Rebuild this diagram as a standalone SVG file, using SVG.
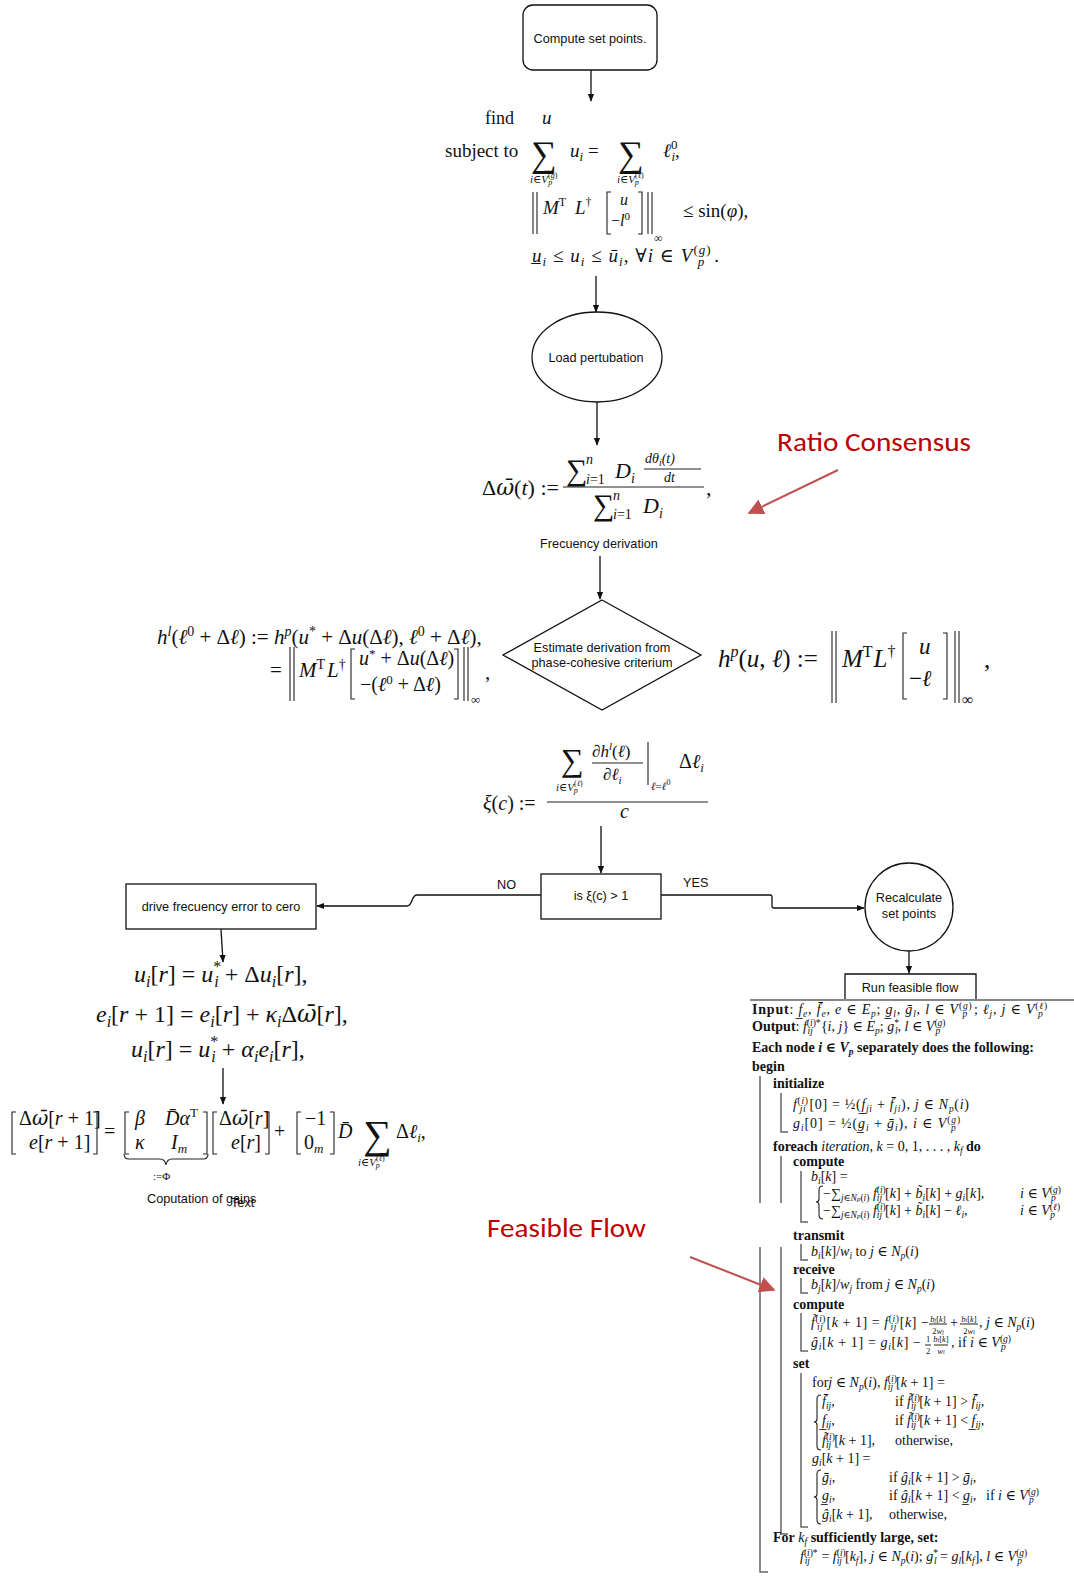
<svg xmlns="http://www.w3.org/2000/svg" width="1074" height="1576" viewBox="0 0 1074 1576">
<style>
.t{font-family:"Liberation Serif","Times New Roman","DejaVu Serif",serif;fill:#111}
.i{font-style:italic}
.b{font-weight:bold}
.w{font-family:"DejaVu Serif",serif}
.f{font-family:"Liberation Sans",Arial,sans-serif;font-size:12.7px;fill:#111}
.nd{fill:#fff;stroke:#111;stroke-width:1.3}
.ln{fill:none;stroke:#111;stroke-width:1.3}
.br{fill:none;stroke:#222;stroke-width:1.1}
.al{font-family:"Liberation Serif","Times New Roman","DejaVu Serif",serif;font-size:14px;fill:#111}
.u{font-size:9.5px;baseline-shift:-3px}
.o{font-size:9.5px;baseline-shift:5px}
.fr{font-size:8.5px}
.bar{fill:none;stroke:#666;stroke-width:1.5}
.red{fill:#C00000;font-family:Carlito,Lato,"Open Sans",sans-serif;font-size:26px}
.ra{stroke:#C0504D;stroke-width:2;fill:none}
</style>
<defs>
<marker id="ah" viewBox="0 0 10 10" refX="9" refY="5" markerWidth="8" markerHeight="8" markerUnits="userSpaceOnUse" orient="auto"><path d="M0,1 L10,5 L0,9 Z" fill="#111"/></marker>
<marker id="rh" viewBox="0 0 10 10" refX="9" refY="5" markerWidth="16" markerHeight="16" markerUnits="userSpaceOnUse" orient="auto"><path d="M0,0 L10,5 L0,10 Z" fill="#C0504D"/></marker>
</defs>
<rect width="1074" height="1576" fill="#fff"/>

<g id="n_compute">
<rect class="nd" x="523" y="5" width="134" height="65" rx="10"/>
<text class="f" x="590" y="43" text-anchor="middle">Compute set points.</text>
</g>

<g id="n_opt">
<text class="t" font-size="18" x="485" y="124">find</text>
<text class="t i" font-size="19" x="542" y="124">u</text>
<text class="t" font-size="19" x="445" y="157">subject to</text>
<text class="t" font-size="36" x="531" y="166">∑</text>
<text class="t" font-size="19" x="570" y="157"><tspan class="i">u</tspan><tspan class="i" font-size="13" baseline-shift="-4">i</tspan> =</text>
<text class="t" font-size="36" x="618" y="166">∑</text>
<text class="t" font-size="19" x="663" y="157"><tspan class="i">ℓ</tspan><tspan font-size="13" baseline-shift="8">0</tspan><tspan class="i" font-size="13" baseline-shift="-4" dx="-6">i</tspan>,</text>
<text class="t" font-size="11" x="530" y="183"><tspan class="i">i</tspan>∈<tspan class="i">V</tspan><tspan font-size="8" baseline-shift="5">(<tspan class="i">g</tspan>)</tspan><tspan class="i" font-size="8" baseline-shift="-2" dx="-9">p</tspan></text>
<text class="t" font-size="11" x="617" y="183"><tspan class="i">i</tspan>∈<tspan class="i">V</tspan><tspan font-size="8" baseline-shift="5">(<tspan class="i">ℓ</tspan>)</tspan><tspan class="i" font-size="8" baseline-shift="-2" dx="-9">p</tspan></text>
<path class="br" d="M533,192 V234 M537,192 V234 M648,192 V234 M652,192 V234 M611,192 H607 V234 H611 M638,192 H642 V234 H638"/>
<text class="t" font-size="19" x="543" y="214"><tspan class="i">M</tspan><tspan font-size="12" baseline-shift="8">T</tspan></text>
<text class="t" font-size="19" x="575" y="214"><tspan class="i">L</tspan><tspan font-size="12" baseline-shift="8">†</tspan></text>
<text class="t i" font-size="16" x="620" y="205">u</text>
<text class="t" font-size="16" x="611" y="226">−<tspan class="i">l</tspan><tspan font-size="11" baseline-shift="6">0</tspan></text>
<text class="t" font-size="12" x="654" y="242">∞</text>
<text class="t" font-size="19" x="683" y="217">≤ sin(<tspan class="i">φ</tspan>),</text>
<text class="t" font-size="19" x="532" y="262" textLength="187" lengthAdjust="spacing"><tspan class="i">u&#x332;</tspan><tspan class="i" font-size="13" baseline-shift="-4">i</tspan> ≤ <tspan class="i">u</tspan><tspan class="i" font-size="13" baseline-shift="-4">i</tspan> ≤ <tspan class="i">ū</tspan><tspan class="i" font-size="13" baseline-shift="-4">i</tspan>, ∀<tspan class="i">i</tspan> ∈ <tspan class="i">V</tspan><tspan font-size="13" baseline-shift="8">(<tspan class="i">g</tspan>)</tspan><tspan class="i" font-size="13" baseline-shift="-4" dx="-14">p</tspan><tspan dx="9">.</tspan></text>
</g>

<g id="n_load">
<ellipse class="nd" cx="597" cy="357" rx="65" ry="45"/>
<text class="f" x="596" y="362" text-anchor="middle">Load pertubation</text>
</g>

<g id="n_freq">
<text class="t" font-size="22" x="482" y="495">Δ<tspan class="i w">ω&#x304;</tspan>(<tspan class="i">t</tspan>) :=</text>
<text class="t" font-size="30" x="566" y="480">∑</text>
<text class="t i" font-size="14" x="586" y="464">n</text>
<text class="t" font-size="14" x="586" y="484"><tspan class="i">i</tspan>=1</text>
<text class="t" font-size="22" x="615" y="478"><tspan class="i">D</tspan><tspan class="i" font-size="14" baseline-shift="-5">i</tspan></text>
<text class="t i" font-size="14" x="645" y="463">dθ<tspan font-size="10" baseline-shift="-3">i</tspan>(t)</text>
<path class="br" d="M644,469 H701 M563,487 H704"/>
<text class="t i" font-size="14" x="664" y="482">dt</text>
<text class="t" font-size="30" x="593" y="515">∑</text>
<text class="t i" font-size="14" x="613" y="500">n</text>
<text class="t" font-size="14" x="613" y="519"><tspan class="i">i</tspan>=1</text>
<text class="t" font-size="22" x="643" y="513"><tspan class="i">D</tspan><tspan class="i" font-size="14" baseline-shift="-5">i</tspan></text>
<text class="t" font-size="22" x="706" y="495">,</text>
<text class="f" x="599" y="548" text-anchor="middle">Frecuency derivation</text>
</g>

<g id="n_estimate">
<polygon class="nd" points="602,600 701,655 602,710 503,655"/>
<text class="f" x="602" y="652" text-anchor="middle">Estimate derivation from</text>
<text class="f" x="602" y="667" text-anchor="middle">phase-cohesive criterium</text>
</g>

<g id="f_hl">
<text class="t" font-size="21" x="157" y="644"><tspan class="i">h</tspan><tspan class="i" font-size="14" baseline-shift="8">l</tspan>(<tspan class="i">ℓ</tspan><tspan font-size="14" baseline-shift="8">0</tspan> + Δ<tspan class="i">ℓ</tspan>) := <tspan class="i">h</tspan><tspan class="i" font-size="14" baseline-shift="8">p</tspan>(<tspan class="i">u</tspan><tspan font-size="14" baseline-shift="8">*</tspan> + Δ<tspan class="i">u</tspan>(Δ<tspan class="i">ℓ</tspan>), <tspan class="i">ℓ</tspan><tspan font-size="14" baseline-shift="8">0</tspan> + Δ<tspan class="i">ℓ</tspan>),</text>
<text class="t" font-size="21" x="270" y="677">=</text>
<path class="br" d="M290,647 V701 M294,647 V701 M464,647 V701 M468,647 V701 M355,649 H351 V699 H355 M454,649 H458 V699 H454"/>
<text class="t" font-size="21" x="299" y="677"><tspan class="i">M</tspan><tspan font-size="14" baseline-shift="8">T</tspan><tspan class="i" dx="2">L</tspan><tspan font-size="14" baseline-shift="8">†</tspan></text>
<text class="t" font-size="20" x="359" y="665"><tspan class="i">u</tspan><tspan font-size="13" baseline-shift="7">*</tspan> + Δ<tspan class="i">u</tspan>(Δ<tspan class="i">ℓ</tspan>)</text>
<text class="t" font-size="20" x="360" y="691">−(<tspan class="i">ℓ</tspan><tspan font-size="13" baseline-shift="7">0</tspan> + Δ<tspan class="i">ℓ</tspan>)</text>
<text class="t" font-size="13" x="471" y="704">∞</text>
<text class="t" font-size="21" x="485" y="679">,</text>
</g>

<g id="f_hp">
<text class="t" font-size="25" x="718" y="667"><tspan class="i">h</tspan><tspan class="i" font-size="16" baseline-shift="10">p</tspan>(<tspan class="i">u</tspan>, <tspan class="i">ℓ</tspan>) :=</text>
<path class="br" d="M832,631 V703 M836,631 V703 M955,631 V703 M959,631 V703 M907,633 H903 V699 H907 M943,633 H947 V699 H943"/>
<text class="t" font-size="25" x="842" y="667"><tspan class="i">M</tspan><tspan font-size="16" baseline-shift="10">T</tspan><tspan class="i" dx="1">L</tspan><tspan font-size="16" baseline-shift="10">†</tspan></text>
<text class="t i" font-size="23" x="919" y="654">u</text>
<text class="t" font-size="23" x="909" y="686">−<tspan class="i">ℓ</tspan></text>
<text class="t" font-size="16" x="962" y="705">∞</text>
<text class="t" font-size="25" x="984" y="668">,</text>
</g>

<g id="n_xi">
<text class="t" font-size="20" x="483" y="810"><tspan class="i">ξ</tspan>(<tspan class="i">c</tspan>) :=</text>
<path class="br" d="M547,802 H708 M592,763 H643 M648,742 V785"/>
<text class="t" font-size="32" x="561" y="771">∑</text>
<text class="t" font-size="11" x="556" y="791"><tspan class="i">i</tspan>∈<tspan class="i">V</tspan><tspan font-size="8" baseline-shift="5">(<tspan class="i">ℓ</tspan>)</tspan><tspan class="i" font-size="8" baseline-shift="-2" dx="-9">p</tspan></text>
<text class="t" font-size="17" x="592" y="757">∂<tspan class="i">h</tspan><tspan class="i" font-size="11" baseline-shift="7">l</tspan>(<tspan class="i">ℓ</tspan>)</text>
<text class="t" font-size="17" x="603" y="780">∂<tspan class="i">ℓ</tspan><tspan class="i" font-size="11" baseline-shift="-4">i</tspan></text>
<text class="t" font-size="11" x="651" y="790"><tspan class="i">ℓ</tspan>=<tspan class="i">ℓ</tspan><tspan font-size="8" baseline-shift="5">0</tspan></text>
<text class="t" font-size="20" x="679" y="768">Δ<tspan class="i">ℓ</tspan><tspan class="i" font-size="13" baseline-shift="-4">i</tspan></text>
<text class="t i" font-size="20" x="620" y="818">c</text>
</g>

<g id="n_decision">
<rect class="nd" x="541" y="874" width="120" height="45"/>
<text class="f" x="601" y="900" text-anchor="middle">is ξ(c) &gt; 1</text>
<text class="f" x="497" y="889">NO</text>
<text class="f" x="683" y="887">YES</text>
</g>

<g id="n_drive">
<rect class="nd" x="126" y="884" width="190" height="45"/>
<text class="f" x="221" y="911" text-anchor="middle">drive frecuency error to cero</text>
</g>

<g id="n_control">
<text class="t" font-size="24" x="134" y="982"><tspan class="i">u</tspan><tspan class="i" font-size="16" baseline-shift="-5">i</tspan>[<tspan class="i">r</tspan>] = <tspan class="i">u</tspan><tspan font-size="16" baseline-shift="10">*</tspan><tspan class="i" font-size="16" baseline-shift="-5" dx="-7">i</tspan> + Δ<tspan class="i">u</tspan><tspan class="i" font-size="16" baseline-shift="-5">i</tspan>[<tspan class="i">r</tspan>],</text>
<text class="t" font-size="24" x="96" y="1022"><tspan class="i">e</tspan><tspan class="i" font-size="16" baseline-shift="-5">i</tspan>[<tspan class="i">r</tspan> + 1] = <tspan class="i">e</tspan><tspan class="i" font-size="16" baseline-shift="-5">i</tspan>[<tspan class="i">r</tspan>] + <tspan class="i">κ</tspan><tspan class="i" font-size="16" baseline-shift="-5">i</tspan>Δ<tspan class="i w">ω&#x304;</tspan>[<tspan class="i">r</tspan>],</text>
<text class="t" font-size="24" x="131" y="1057"><tspan class="i">u</tspan><tspan class="i" font-size="16" baseline-shift="-5">i</tspan>[<tspan class="i">r</tspan>] = <tspan class="i">u</tspan><tspan font-size="16" baseline-shift="10">*</tspan><tspan class="i" font-size="16" baseline-shift="-5" dx="-7">i</tspan> + <tspan class="i">α</tspan><tspan class="i" font-size="16" baseline-shift="-5">i</tspan><tspan class="i">e</tspan><tspan class="i" font-size="16" baseline-shift="-5">i</tspan>[<tspan class="i">r</tspan>],</text>
<path class="br" d="M16,1112 H12 V1154 H16 M93,1112 H97 V1154 H93 M129,1112 H125 V1154 H129 M203,1112 H207 V1154 H203 M217,1112 H213 V1154 H217 M265,1112 H269 V1154 H265 M301,1112 H297 V1154 H301 M330,1112 H334 V1154 H330"/>
<path class="br" d="M124,1154 Q124,1159 129,1159 H160 Q165,1159 166,1165 Q167,1159 172,1159 H203 Q208,1159 208,1154"/>
<text class="t" font-size="20" x="19" y="1125">Δ<tspan class="i w">ω&#x304;</tspan>[<tspan class="i">r</tspan> + 1]</text>
<text class="t" font-size="20" x="29" y="1149"><tspan class="i">e</tspan>[<tspan class="i">r</tspan> + 1]</text>
<text class="t" font-size="20" x="104" y="1138">=</text>
<text class="t i" font-size="20" x="135" y="1125">β</text>
<text class="t" font-size="20" x="165" y="1125"><tspan class="i">D&#x304;</tspan><tspan class="i">α</tspan><tspan font-size="13" baseline-shift="8">T</tspan></text>
<text class="t i" font-size="20" x="135" y="1149">κ</text>
<text class="t" font-size="20" x="171" y="1149"><tspan class="i">I</tspan><tspan class="i" font-size="13" baseline-shift="-4">m</tspan></text>
<text class="t" font-size="11" x="153" y="1180">:=Φ</text>
<text class="t" font-size="20" x="219" y="1125">Δ<tspan class="i w">ω&#x304;</tspan>[<tspan class="i">r</tspan>]</text>
<text class="t" font-size="20" x="231" y="1149"><tspan class="i">e</tspan>[<tspan class="i">r</tspan>]</text>
<text class="t" font-size="20" x="274" y="1138">+</text>
<text class="t" font-size="20" x="305" y="1125">−1</text>
<text class="t" font-size="20" x="304" y="1149">0<tspan class="i" font-size="13" baseline-shift="-4">m</tspan></text>
<text class="t i" font-size="20" x="338" y="1138">D&#x304;</text>
<text class="t" font-size="40" x="363" y="1148">∑</text>
<text class="t" font-size="11" x="358" y="1166"><tspan class="i">i</tspan>∈<tspan class="i">V</tspan><tspan font-size="8" baseline-shift="5">(<tspan class="i">ℓ</tspan>)</tspan><tspan class="i" font-size="8" baseline-shift="-2" dx="-9">p</tspan></text>
<text class="t" font-size="20" x="396" y="1138">Δ<tspan class="i">ℓ</tspan><tspan class="i" font-size="13" baseline-shift="-4">i</tspan>,</text>
<text class="f" x="147" y="1203">Coputation of gains</text>
<text class="f" x="231" y="1207" font-size="11">Text</text>
</g>

<g id="n_recalc">
<circle class="nd" cx="909" cy="907" r="44"/>
<text class="f" x="909" y="902" text-anchor="middle">Recalculate</text>
<text class="f" x="909" y="918" text-anchor="middle">set points</text>
</g>

<g id="n_run">
<path class="ln" d="M845,1000 V974 H976 V1000"/>
<path d="M750,1000 H1074" stroke="#888" stroke-width="2" fill="none"/>
<text class="f" x="910" y="992" text-anchor="middle">Run feasible flow</text>
<path class="bar" d="M760,1076 V1203 M760,1247 V1572 H768 M781,1093 V1132 H788 M781,1156 V1203 M781,1247 V1534 H788 M801,1171 V1222 H808 M801,1244 V1260 H808 M801,1278 V1293 H808 M801,1313 V1351 H808 M801,1373 V1527 H808"/>
<path class="br" d="M823,1186 Q819,1186 819,1190 L819,1199 Q819,1202 816,1202 Q819,1202 819,1205 L819,1215 Q819,1219 823,1219 M821,1395 Q817,1395 817,1399 L817,1419 Q817,1422 814,1422 Q817,1422 817,1425 L817,1446 Q817,1450 821,1450 M821,1470 Q817,1470 817,1474 L817,1494 Q817,1497 814,1497 Q817,1497 817,1500 L817,1520 Q817,1524 821,1524"/>
<text class="al" x="752" y="1014" textLength="296" lengthAdjust="spacing"><tspan class="b">Input</tspan>: <tspan class="i">f&#x332;</tspan><tspan class="u i">e</tspan>, <tspan class="i">f&#x304;</tspan><tspan class="u i">e</tspan>, <tspan class="i">e</tspan> ∈ <tspan class="i">E</tspan><tspan class="u i">p</tspan>; <tspan class="i">g&#x332;</tspan><tspan class="u i">l</tspan>, <tspan class="i">ḡ</tspan><tspan class="u i">l</tspan>, <tspan class="i">l</tspan> ∈ <tspan class="i">V</tspan><tspan class="o">(<tspan class="i">g</tspan>)</tspan><tspan class="u i" dx="-10">p</tspan><tspan dx="6">; </tspan><tspan class="i">ℓ</tspan><tspan class="u i">j</tspan>, <tspan class="i">j</tspan> ∈ <tspan class="i">V</tspan><tspan class="o">(<tspan class="i">ℓ</tspan>)</tspan><tspan class="u i" dx="-10">p</tspan></text>
<text class="al" x="752" y="1031"><tspan class="b">Output</tspan>: <tspan class="i">f</tspan><tspan class="o">(<tspan class="i">i</tspan>)*</tspan><tspan class="u i" dx="-13">ij</tspan><tspan dx="8">{</tspan><tspan class="i">i</tspan>, <tspan class="i">j</tspan>} ∈ <tspan class="i">E</tspan><tspan class="u i">p</tspan>; <tspan class="i">g</tspan><tspan class="o">*</tspan><tspan class="u i" dx="-4">l</tspan>, <tspan class="i">l</tspan> ∈ <tspan class="i">V</tspan><tspan class="o">(<tspan class="i">g</tspan>)</tspan><tspan class="u i" dx="-10">p</tspan></text>
<text class="al b" x="752" y="1052">Each node <tspan class="i">i</tspan> ∈ <tspan class="i">V</tspan><tspan class="u i">p</tspan> separately does the following:</text>
<text class="al b" x="752" y="1071">begin</text>
<text class="al b" x="773" y="1088">initialize</text>
<text class="al" x="793" y="1109" textLength="176" lengthAdjust="spacing"><tspan class="i">f</tspan><tspan class="o">(<tspan class="i">i</tspan>)</tspan><tspan class="u i" dx="-9">ji</tspan><tspan dx="3">[0] = ½(</tspan><tspan class="i">f&#x332;</tspan><tspan class="u i">ji</tspan> + <tspan class="i">f&#x304;</tspan><tspan class="u i">ji</tspan>), <tspan class="i">j</tspan> ∈ <tspan class="i">N</tspan><tspan class="u i">p</tspan>(<tspan class="i">i</tspan>)</text>
<text class="al" x="793" y="1128" textLength="168" lengthAdjust="spacing"><tspan class="i">g</tspan><tspan class="u i">i</tspan>[0] = ½(<tspan class="i">g&#x332;</tspan><tspan class="u i">i</tspan> + <tspan class="i">ḡ</tspan><tspan class="u i">i</tspan>), <tspan class="i">i</tspan> ∈ <tspan class="i">V</tspan><tspan class="o">(<tspan class="i">g</tspan>)</tspan><tspan class="u i" dx="-10">p</tspan></text>
<text class="al" x="773" y="1151"><tspan class="b">foreach</tspan> <tspan class="i">iteration</tspan>, <tspan class="i">k</tspan> = 0, 1, . . . , <tspan class="i">k</tspan><tspan class="u i">f</tspan> <tspan class="b">do</tspan></text>
<text class="al b" x="793" y="1166">compute</text>
<text class="al" x="811" y="1181"><tspan class="i">b</tspan><tspan class="u i">i</tspan>[<tspan class="i">k</tspan>] =</text>
<text class="al" x="823" y="1198">−∑<tspan class="u"><tspan class="i">j</tspan>∈<tspan class="i">N</tspan><tspan class="i" font-size="7">p</tspan>(<tspan class="i">i</tspan>)</tspan> <tspan class="i">f</tspan><tspan class="o">(<tspan class="i">i</tspan>)</tspan><tspan class="u i" dx="-9">ij</tspan><tspan dx="3">[</tspan><tspan class="i">k</tspan>] + <tspan class="i">b&#x303;</tspan><tspan class="u i">i</tspan>[<tspan class="i">k</tspan>] + <tspan class="i">g</tspan><tspan class="u i">i</tspan>[<tspan class="i">k</tspan>],</text>
<text class="al" x="1020" y="1198"><tspan class="i">i</tspan> ∈ <tspan class="i">V</tspan><tspan class="o">(<tspan class="i">g</tspan>)</tspan><tspan class="u i" dx="-10">p</tspan></text>
<text class="al" x="823" y="1215">−∑<tspan class="u"><tspan class="i">j</tspan>∈<tspan class="i">N</tspan><tspan class="i" font-size="7">p</tspan>(<tspan class="i">i</tspan>)</tspan> <tspan class="i">f</tspan><tspan class="o">(<tspan class="i">i</tspan>)</tspan><tspan class="u i" dx="-9">ij</tspan><tspan dx="3">[</tspan><tspan class="i">k</tspan>] + <tspan class="i">b&#x303;</tspan><tspan class="u i">i</tspan>[<tspan class="i">k</tspan>] − <tspan class="i">ℓ</tspan><tspan class="u i">i</tspan>,</text>
<text class="al" x="1020" y="1215"><tspan class="i">i</tspan> ∈ <tspan class="i">V</tspan><tspan class="o">(<tspan class="i">ℓ</tspan>)</tspan><tspan class="u i" dx="-10">p</tspan></text>
<text class="al b" x="793" y="1240">transmit</text>
<text class="al" x="811" y="1256"><tspan class="i">b</tspan><tspan class="u i">i</tspan>[<tspan class="i">k</tspan>]/<tspan class="i">w</tspan><tspan class="u i">i</tspan> to <tspan class="i">j</tspan> ∈ <tspan class="i">N</tspan><tspan class="u i">p</tspan>(<tspan class="i">i</tspan>)</text>
<text class="al b" x="793" y="1274">receive</text>
<text class="al" x="811" y="1289"><tspan class="i">b</tspan><tspan class="u i">j</tspan>[<tspan class="i">k</tspan>]/<tspan class="i">w</tspan><tspan class="u i">j</tspan> from <tspan class="i">j</tspan> ∈ <tspan class="i">N</tspan><tspan class="u i">p</tspan>(<tspan class="i">i</tspan>)</text>
<text class="al b" x="793" y="1309">compute</text>
<text class="al" x="811" y="1327" textLength="118" lengthAdjust="spacing"><tspan class="i">f&#x303;</tspan><tspan class="o">(<tspan class="i">i</tspan>)</tspan><tspan class="u i" dx="-9">ij</tspan><tspan dx="3">[</tspan><tspan class="i">k</tspan> + 1] = <tspan class="i">f</tspan><tspan class="o">(<tspan class="i">i</tspan>)</tspan><tspan class="u i" dx="-9">ij</tspan><tspan dx="3">[</tspan><tspan class="i">k</tspan>] −</text>
<text class="al fr" x="938" y="1322" text-anchor="middle"><tspan class="i">b</tspan><tspan class="i" font-size="6">j</tspan>[<tspan class="i">k</tspan>]</text>
<text class="al fr" x="938" y="1334" text-anchor="middle">2<tspan class="i">w</tspan><tspan class="i" font-size="6">j</tspan></text>
<text class="al" x="950" y="1327">+</text>
<text class="al fr" x="969" y="1322" text-anchor="middle"><tspan class="i">b</tspan><tspan class="i" font-size="6">i</tspan>[<tspan class="i">k</tspan>]</text>
<text class="al fr" x="969" y="1334" text-anchor="middle">2<tspan class="i">w</tspan><tspan class="i" font-size="6">i</tspan></text>
<text class="al" x="979" y="1327">, <tspan class="i">j</tspan> ∈ <tspan class="i">N</tspan><tspan class="u i">p</tspan>(<tspan class="i">i</tspan>)</text>
<text class="al" x="811" y="1347" textLength="110" lengthAdjust="spacing"><tspan class="i">ĝ</tspan><tspan class="u i">i</tspan>[<tspan class="i">k</tspan> + 1] = <tspan class="i">g</tspan><tspan class="u i">i</tspan>[<tspan class="i">k</tspan>] −</text>
<text class="al fr" x="928" y="1342" text-anchor="middle">1</text>
<text class="al fr" x="928" y="1354" text-anchor="middle">2</text>
<text class="al fr" x="941" y="1342" text-anchor="middle"><tspan class="i">b</tspan><tspan class="i" font-size="6">i</tspan>[<tspan class="i">k</tspan>]</text>
<text class="al fr" x="941" y="1354" text-anchor="middle"><tspan class="i">w</tspan><tspan class="i" font-size="6">i</tspan></text>
<path class="br" d="M929,1324 H947 M960,1324 H978 M925,1345 H931 M934,1345 H948" stroke-width="0.7"/>
<text class="al" x="951" y="1347">, if <tspan class="i">i</tspan> ∈ <tspan class="i">V</tspan><tspan class="o">(<tspan class="i">g</tspan>)</tspan><tspan class="u i" dx="-10">p</tspan></text>
<text class="al b" x="793" y="1368">set</text>
<text class="al" x="812" y="1387">for<tspan class="i">j</tspan> ∈ <tspan class="i">N</tspan><tspan class="u i">p</tspan>(<tspan class="i">i</tspan>), <tspan class="i">f</tspan><tspan class="o">(<tspan class="i">i</tspan>)</tspan><tspan class="u i" dx="-9">ij</tspan><tspan dx="3">[</tspan><tspan class="i">k</tspan> + 1] =</text>
<text class="al" x="822" y="1406"><tspan class="i">f&#x304;</tspan><tspan class="u i">ij</tspan>,</text>
<text class="al" x="895" y="1406">if <tspan class="i">f&#x303;</tspan><tspan class="o">(<tspan class="i">i</tspan>)</tspan><tspan class="u i" dx="-9">ij</tspan><tspan dx="3">[</tspan><tspan class="i">k</tspan> + 1] &gt; <tspan class="i">f&#x304;</tspan><tspan class="u i">ij</tspan>,</text>
<text class="al" x="822" y="1425"><tspan class="i">f&#x332;</tspan><tspan class="u i">ij</tspan>,</text>
<text class="al" x="895" y="1425">if <tspan class="i">f&#x303;</tspan><tspan class="o">(<tspan class="i">i</tspan>)</tspan><tspan class="u i" dx="-9">ij</tspan><tspan dx="3">[</tspan><tspan class="i">k</tspan> + 1] &lt; <tspan class="i">f&#x332;</tspan><tspan class="u i">ij</tspan>,</text>
<text class="al" x="822" y="1445"><tspan class="i">f&#x303;</tspan><tspan class="o">(<tspan class="i">i</tspan>)</tspan><tspan class="u i" dx="-9">ij</tspan><tspan dx="3">[</tspan><tspan class="i">k</tspan> + 1],</text>
<text class="al" x="895" y="1445">otherwise,</text>
<text class="al" x="812" y="1463"><tspan class="i">g</tspan><tspan class="u i">i</tspan>[<tspan class="i">k</tspan> + 1] =</text>
<text class="al" x="822" y="1482"><tspan class="i">ḡ</tspan><tspan class="u i">i</tspan>,</text>
<text class="al" x="889" y="1482">if <tspan class="i">ĝ</tspan><tspan class="u i">i</tspan>[<tspan class="i">k</tspan> + 1] &gt; <tspan class="i">ḡ</tspan><tspan class="u i">i</tspan>,</text>
<text class="al" x="822" y="1500"><tspan class="i">g&#x332;</tspan><tspan class="u i">i</tspan>,</text>
<text class="al" x="889" y="1500">if <tspan class="i">ĝ</tspan><tspan class="u i">i</tspan>[<tspan class="i">k</tspan> + 1] &lt; <tspan class="i">g&#x332;</tspan><tspan class="u i">i</tspan>,</text>
<text class="al" x="986" y="1500">if <tspan class="i">i</tspan> ∈ <tspan class="i">V</tspan><tspan class="o">(<tspan class="i">g</tspan>)</tspan><tspan class="u i" dx="-10">p</tspan></text>
<text class="al" x="822" y="1519"><tspan class="i">ĝ</tspan><tspan class="u i">i</tspan>[<tspan class="i">k</tspan> + 1],</text>
<text class="al" x="889" y="1519">otherwise,</text>
<text class="al" x="773" y="1542"><tspan class="b">For</tspan> <tspan class="i">k</tspan><tspan class="u i">f</tspan> <tspan class="b">sufficiently large, set:</tspan></text>
<text class="al" x="800" y="1561"><tspan class="i">f</tspan><tspan class="o">(<tspan class="i">i</tspan>)*</tspan><tspan class="u i" dx="-13">ij</tspan><tspan dx="8"> = </tspan><tspan class="i">f</tspan><tspan class="o">(<tspan class="i">i</tspan>)</tspan><tspan class="u i" dx="-9">ij</tspan><tspan dx="3">[</tspan><tspan class="i">k</tspan><tspan class="u i">f</tspan>], <tspan class="i">j</tspan> ∈ <tspan class="i">N</tspan><tspan class="u i">p</tspan>(<tspan class="i">i</tspan>); <tspan class="i">g</tspan><tspan class="o">*</tspan><tspan class="u i" dx="-4">l</tspan> = <tspan class="i">g</tspan><tspan class="u i">l</tspan>[<tspan class="i">k</tspan><tspan class="u i">f</tspan>], <tspan class="i">l</tspan> ∈ <tspan class="i">V</tspan><tspan class="o">(<tspan class="i">g</tspan>)</tspan><tspan class="u i" dx="-10">p</tspan></text>
</g>

<g id="connectors" class="ln">
<path d="M591,70 V101" marker-end="url(#ah)"/>
<path d="M596,276 V312" marker-end="url(#ah)"/>
<path d="M597,402 V445" marker-end="url(#ah)"/>
<path d="M600,556 V599" marker-end="url(#ah)"/>
<path d="M601,826 V873" marker-end="url(#ah)"/>
<path d="M541,895 H417 C411,895 413,906 407,906 H317" marker-end="url(#ah)"/>
<path d="M661,895 H770 Q772,895 772,897 V906 Q772,908 774,908 H864" marker-end="url(#ah)"/>
<path d="M221,929 L223,962" marker-end="url(#ah)"/>
<path d="M223,1068 V1104" marker-end="url(#ah)"/>
<path d="M909,951 V973" marker-end="url(#ah)"/>
</g>

<g id="annotations">
<text class="red" x="777" y="451" textLength="194" lengthAdjust="spacingAndGlyphs">Ratio Consensus</text>
<path class="ra" d="M838,470 L749,513" marker-end="url(#rh)"/>
<text class="red" x="487" y="1237" textLength="159" lengthAdjust="spacingAndGlyphs">Feasible Flow</text>
<path class="ra" d="M690,1257 L774,1290" marker-end="url(#rh)"/>
</g>
</svg>
